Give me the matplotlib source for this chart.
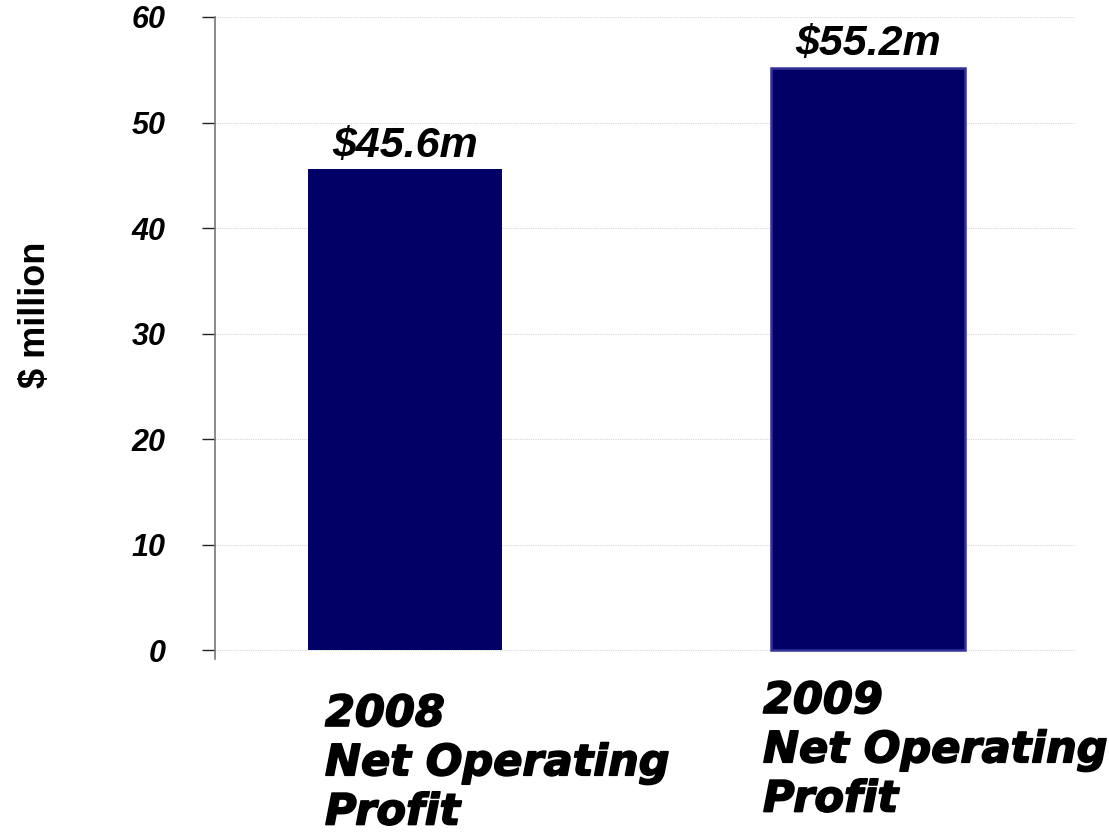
import matplotlib
matplotlib.use("Agg")
import matplotlib.pyplot as plt
import matplotlib.patheffects as pe

categories = ["2008\nNet Operating\nProfit", "2009\nNet Operating\nProfit"]
values = [45.6, 55.2]
value_labels = ["$45.6m", "$55.2m"]
yticks = [0, 10, 20, 30, 40, 50, 60]

fig = plt.figure(figsize=(11.09, 8.36), dpi=100)
ax = fig.add_axes([215/1109, 1-659/836, (1075-215)/1109, (659-17)/836])

bar_color = "#000066"
edges = ["#000066", "#33339a"]
x = list(range(len(values)))
bars = ax.bar(x, values, width=0.42, color=bar_color, edgecolor=edges, linewidth=[0, 1.8], zorder=3)

ax.set_xlim(-0.411, 1.447)
ax.set_ylim(-0.85, 60)
ax.set_yticks(yticks)
ax.set_yticklabels([str(t) for t in yticks], fontfamily="Liberation Sans",
                   fontweight="bold", fontstyle="italic", fontsize=22)
ax.tick_params(axis="y", direction="out", length=9.5, width=1.0, pad=26, color="#222222")
ax.set_xticks([])
for s in ["top", "right", "bottom"]:
    ax.spines[s].set_visible(False)
ax.spines["left"].set_color("#777777")
ax.spines["left"].set_linewidth(1.2)
ax.yaxis.grid(True, color="#d6d6d6", linewidth=0.8, linestyle=(0, (1, 1)), zorder=0)
ax.set_axisbelow(True)

for xi, v, lab in zip(x, values, value_labels):
    ax.text(xi, v + 0.3, lab, ha="center", va="bottom", fontfamily="Liberation Sans",
            fontweight="bold", fontstyle="italic", fontsize=31, zorder=4)

fig.text(35/1109, 1-315/836, "$ million", rotation=90, ha="center", va="center",
         fontfamily="Liberation Sans", fontweight="bold", fontsize=26)

label_pos = [(325/1109, 1-693/836), (763/1109, 1-680/836)]
for (lx, ly), cat in zip(label_pos, categories):
    fig.text(lx, ly, cat, ha="left", va="top", fontfamily="DejaVu Sans",
             fontweight="bold", fontstyle="italic", fontsize=31, linespacing=1.22,
             path_effects=[pe.withStroke(linewidth=1.2, foreground="black")])

fig.savefig("out.png", dpi=100)
